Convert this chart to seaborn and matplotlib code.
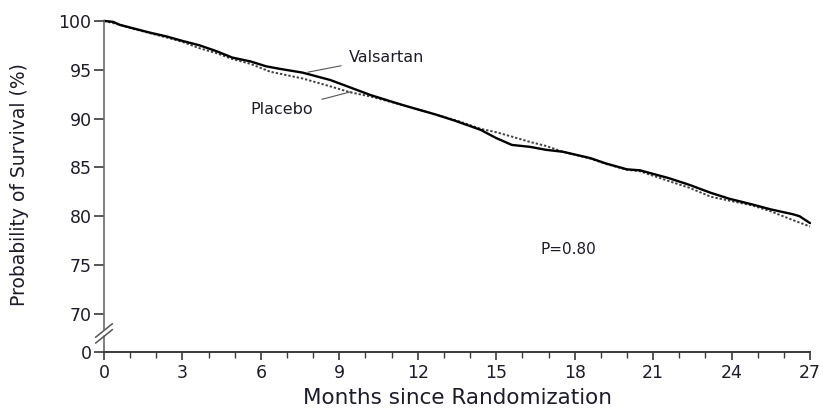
import matplotlib
matplotlib.use("Agg")
import matplotlib.pyplot as plt
import seaborn as sns
import pandas as pd

# survival curves (months, % surviving)
valsartan_months = [0, 0.35, 0.6, 1.1, 1.75, 2.4, 3.0, 3.65, 4.3, 4.9, 5.6, 6.2, 6.7, 7.6,
                    8.65, 9.3, 10.2, 11.4, 12.7, 13.4, 14.4, 15.0, 15.6, 16.3, 16.9, 17.55,
                    18.6, 19.2, 20.0, 20.5, 21.6, 22.4, 23.2, 23.9, 24.8, 25.5, 26.35, 26.6, 27.0]
valsartan_surv = [100.0, 99.9, 99.6, 99.25, 98.8, 98.4, 97.95, 97.5, 96.9, 96.25, 95.85, 95.35, 95.1, 94.7,
                  93.95, 93.3, 92.4, 91.4, 90.4, 89.8, 88.85, 88.0, 87.3, 87.1, 86.8, 86.6,
                  85.95, 85.4, 84.8, 84.7, 83.9, 83.2, 82.4, 81.8, 81.2, 80.7, 80.2, 80.0, 79.3]

placebo_months = [0, 0.6, 1.1, 1.75, 2.4, 3.0, 3.65, 4.3, 4.9, 5.6, 6.35, 7.6, 8.65, 9.4,
                  10.2, 11.4, 12.7, 13.6, 14.4, 15.0, 15.6, 16.3, 16.9, 17.55, 18.6, 19.2,
                  20.0, 20.5, 21.6, 22.4, 23.2, 23.9, 24.8, 25.5, 26.35, 27.0]
placebo_surv = [100.0, 99.6, 99.2, 98.75, 98.3, 97.85, 97.2, 96.7, 96.1, 95.6, 94.8, 94.1, 93.3, 92.7,
                92.25, 91.4, 90.4, 89.7, 88.95, 88.6, 88.15, 87.6, 87.2, 86.6, 85.9, 85.35,
                84.75, 84.6, 83.6, 82.9, 82.0, 81.6, 81.1, 80.5, 79.6, 78.95]

x_ticks = [0, 3, 6, 9, 12, 15, 18, 21, 24, 27]
y_ticks = [70, 75, 80, 85, 90, 95, 100]
y_zero = 66.1   # where the broken axis puts the 0 label
p_text = "P=0.80"

sns.set_style("ticks")
plt.rcParams['font.family'] = ['DejaVu Sans']
txt = "#1c1c2a"
axc = "#3a3a3a"

fig = plt.figure(figsize=(8.23, 4.11), dpi=100)
ax = fig.add_axes([0.1264, 0.1436, 0.8578, 0.8127])

df_v = pd.DataFrame({"month": valsartan_months, "surv": valsartan_surv})
df_p = pd.DataFrame({"month": placebo_months, "surv": placebo_surv})

sns.lineplot(data=df_p, x="month", y="surv", color="#404040", lw=1.4,
             linestyle=(0, (1.2, 1.0)), estimator=None, sort=False, ax=ax, clip_on=False)
sns.lineplot(data=df_v, x="month", y="surv", color="black", lw=1.7,
             estimator=None, sort=False, ax=ax, clip_on=False)

ax.set_xlim(0, 27)
ax.set_ylim(y_zero, 100.3)
ax.set_xticks(x_ticks)
ax.set_xticks(range(0, 28), minor=True)
ax.set_yticks(y_ticks + [y_zero])
ax.set_yticklabels([str(v) for v in y_ticks] + ["0"])

ax.tick_params(axis="both", which="major", labelsize=12.5, colors=axc, labelcolor=txt,
               width=1.2, direction="out")
ax.tick_params(axis="x", which="major", length=6, pad=3)
ax.tick_params(axis="x", which="minor", length=4, width=1.0, colors=axc)
ax.tick_params(axis="y", which="major", length=7, pad=2)

for s in ["top", "right"]:
    ax.spines[s].set_visible(False)
ax.spines["bottom"].set_color(axc)
ax.spines["bottom"].set_linewidth(1.4)
ax.spines["left"].set_color("#6a6a6a")
ax.spines["left"].set_linewidth(1.2)
ax.spines["left"].set_bounds(68.3, 100)

# lower stub of the broken y axis and the break marks
yt = ax.get_yaxis_transform()
ax.plot([0, 0], [y_zero, 67.7], transform=yt, color="#6a6a6a", lw=1.2, clip_on=False)
for yc in (67.7, 68.3):
    ax.plot([-0.012, 0.012], [yc - 0.7, yc + 0.7], transform=yt, color="#555555",
            lw=1.1, clip_on=False)

ax.set_xlabel("Months since Randomization", fontsize=15.5, color=txt, labelpad=4)
ax.set_ylabel("Probability of Survival (%)", fontsize=13.5, color=txt, labelpad=21)

ax.annotate("Valsartan", xy=(7.8, 94.75), xytext=(9.35, 96.3), fontsize=11.5, color=txt,
            ha="left", va="center",
            arrowprops=dict(arrowstyle="-", color="#555555", lw=0.8, shrinkA=3, shrinkB=0))
ax.annotate("Placebo", xy=(9.45, 92.75), xytext=(8.0, 90.9), fontsize=11.5, color=txt,
            ha="right", va="center",
            arrowprops=dict(arrowstyle="-", color="#555555", lw=0.8, shrinkA=4, shrinkB=0))
ax.text(17.74, 76.6, p_text, fontsize=11, color=txt, ha="center", va="center")

fig.savefig("out.png", dpi=100)
